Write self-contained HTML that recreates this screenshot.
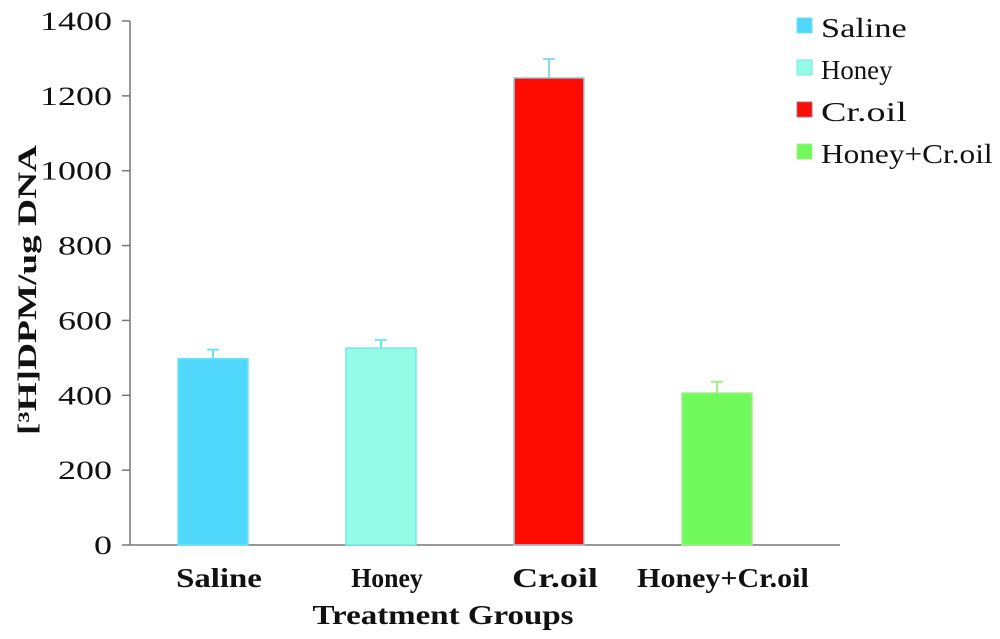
<!DOCTYPE html>
<html><head><meta charset="utf-8"><style>
body{margin:0;background:#fff;}
svg text{font-family:"Liberation Serif",serif;fill:#111;}
</style></head><body>
<svg id="chart" width="1000" height="634"></svg>
<script>
const categories=["Saline","Honey","Cr.oil","Honey+Cr.oil"];
const values=[498,526,1248,406];
const errors=[24,22,50,30];
const colors=["#4fd8fb","#95fbe6","#fe0c02","#71f85a"];
const edges=["#6fe2fb","#6fe8e8","#8fd4e8","#9ff08a"];
const yTicks=[0,200,400,600,800,1000,1200,1400];
const ns="http://www.w3.org/2000/svg";
const svg=document.getElementById('chart');
const X0=130,Y0=545,Ytop=21,yMax=1400;
const y=v=>Y0-(v/yMax)*(Y0-Ytop);
const xc=i=>213+i*168;
function mk(t,a,txt){const e=document.createElementNS(ns,t);for(const k in a)e.setAttribute(k,a[k]);if(txt!=null)e.textContent=txt;svg.appendChild(e);return e;}
let e;
e=mk('line',{x1:X0,y1:Ytop,x2:X0,y2:Y0,stroke:'#777','stroke-width':1.5});


e=mk('line',{x1:X0,y1:Y0,x2:840,y2:Y0,stroke:'#777','stroke-width':1.5});


yTicks.forEach(v=>{
 e=mk('line',{x1:122,y1:y(v),x2:X0,y2:y(v),stroke:'#777','stroke-width':1.5});
 
 
 const s=String(v);
 e=mk('text',{x:112,y:y(v)+9,'text-anchor':'end','font-size':26,textLength:s.length*18,lengthAdjust:'spacingAndGlyphs'},s);
 
 
});
categories.forEach((c,i)=>{
 const w=70,x=xc(i)-w/2;
 e=mk('rect',{x:x,y:y(values[i]),width:w,height:Y0-y(values[i]),fill:colors[i],stroke:edges[i],'stroke-width':1.5});
 
 
 const et=y(values[i]+errors[i]);
 e=mk('path',{d:`M${xc(i)},${y(values[i])}V${et}M${xc(i)-6},${et}H${xc(i)+6}`,stroke:edges[i],'stroke-width':2,fill:'none'});
 
 
 e=mk('text',{x:xc(i)+6,y:587,'text-anchor':'middle','font-size':27,'font-weight':'bold',textLength:c.length*14.3,lengthAdjust:'spacingAndGlyphs'},c);
 
 
 e=mk('rect',{x:797,y:18+i*42,width:15,height:15,fill:colors[i],stroke:i==2?'#a07090':edges[i],'stroke-width':1});
 
 
 e=mk('text',{x:821,y:37+i*42,'font-size':27,textLength:c.length*14.3,lengthAdjust:'spacingAndGlyphs'},c);
 
 
});
e=mk('text',{x:443,y:624,'text-anchor':'middle','font-size':27,'font-weight':'bold',textLength:261,lengthAdjust:'spacingAndGlyphs'},'Treatment Groups');


e=mk('text',{transform:'translate(36,290) rotate(-90)','text-anchor':'middle','font-size':26,'font-weight':'bold',textLength:290,lengthAdjust:'spacingAndGlyphs'},'[³H]DPM/ug DNA');


</script>
</body></html>
